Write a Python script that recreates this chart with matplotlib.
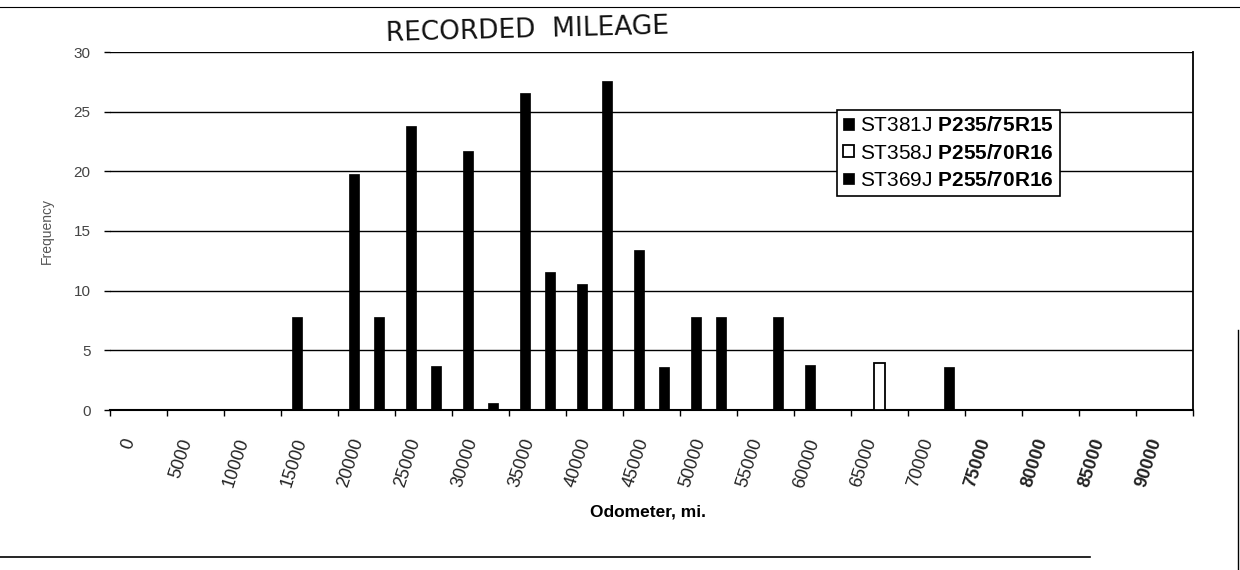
import matplotlib
matplotlib.use('Agg')
import matplotlib.pyplot as plt
import numpy as np
from matplotlib.lines import Line2D

# ---------------- data ----------------
categories = ['0', '5000', '10000', '15000', '20000', '25000', '30000', '35000',
              '40000', '45000', '50000', '55000', '60000', '65000', '70000',
              '75000', '80000', '85000', '90000']
st381j = [0, 0, 0, 7.8, 19.8, 23.8, 21.7, 26.6, 10.6, 13.4, 7.8, 0, 3.8, 0, 0, 0, 0, 0, 0]
st358j = [0, 0, 0, 0, 0, 0, 0, 0, 0, 0, 0, 0, 0, 3.9, 0, 0, 0, 0, 0]
st369j = [0, 0, 0, 0, 7.8, 3.7, 0.6, 11.6, 27.6, 3.6, 7.8, 7.8, 0, 0, 3.6, 0, 0, 0, 0]
series_labels = ['ST381J $\\mathbf{P235/75R15}$',
                 'ST358J $\\mathbf{P255/70R16}$',
                 'ST369J $\\mathbf{P255/70R16}$']
yticks = [0, 5, 10, 15, 20, 25, 30]

plt.rcParams['font.family'] = ['Liberation Sans', 'DejaVu Sans']
plt.rcParams['mathtext.fontset'] = 'custom'
plt.rcParams['mathtext.rm'] = 'Liberation Sans'
plt.rcParams['mathtext.bf'] = 'Liberation Sans:bold'

W, H = 1240, 570
fig = plt.figure(figsize=(W / 100, H / 100), dpi=100)
ax = fig.add_axes([110 / W, 1 - 410 / H, (1193 - 110) / W, (410 - 52) / H])

x = np.arange(len(categories))
bw = 0.19
off = 0.22
ax.bar(x - off, st381j, width=bw, color='black', edgecolor='black', linewidth=0.5,
       label=series_labels[0], zorder=3)
ax.bar(x, st358j, width=bw, color='white', edgecolor='black', linewidth=1.3,
       label=series_labels[1], zorder=3)
ax.bar(x + off, st369j, width=bw, color='black', edgecolor='black', linewidth=0.5,
       label=series_labels[2], zorder=3)

ax.set_xlim(-0.5, len(categories) - 0.5)
ax.set_ylim(0, 30)
ax.set_yticks(yticks)
ax.set_yticklabels([str(v) for v in yticks], fontsize=11, color='#444444')
ax.grid(axis='y', color='black', linewidth=1.0, zorder=0)
ax.set_axisbelow(True)

ax.set_xticks(x)
ax.set_xticklabels(categories, rotation=72, ha='right', va='top', fontsize=13,
                   color='#222222')
for lbl in ax.get_xticklabels()[15:]:
    lbl.set_fontweight('bold')
ax.tick_params(axis='x', which='major', length=0, pad=19)
ax.set_xticks(np.arange(-0.5, len(categories), 1.0), minor=True)
ax.tick_params(axis='x', which='minor', length=4, width=1, color='black', direction='out')
ax.tick_params(axis='y', length=4, width=1, pad=10, color='black')

for s in ['top', 'left']:
    ax.spines[s].set_visible(False)
ax.spines['bottom'].set_linewidth(1.5)
ax.spines['right'].set_linewidth(1.3)

ax.set_xlabel('Odometer, mi.', fontsize=12.5, fontweight='bold', va='center')
ax.xaxis.set_label_coords((648 - 110) / (1193 - 110), (410 - 512) / (410 - 52))
ax.set_ylabel('Frequency', fontsize=10, color='#555555', labelpad=14)

leg = ax.legend(loc='upper left', bbox_to_anchor=(837 / W, 1 - 110 / H),
                bbox_transform=fig.transFigure, fontsize=15, frameon=True,
                fancybox=False, framealpha=1, edgecolor='black',
                handlelength=0.5, handleheight=0.5, handletextpad=0.3,
                labelspacing=0.4, borderpad=0.3, borderaxespad=0)
leg.get_frame().set_linewidth(1.2)

fig.text(527 / W, 1 - 30 / H, 'RECORDED  MILEAGE', ha='center', va='center',
         fontsize=19, family='DejaVu Sans', rotation=1.5, color='#111111')

# page / frame lines from the scanned sheet
fig.add_artist(Line2D([0, 1090 / W], [1 - 557 / H, 1 - 557 / H], color='black', lw=1.2))
fig.add_artist(Line2D([1237.5 / W, 1237.5 / W], [0, 1 - 330 / H], color='black', lw=1.0))
fig.add_artist(Line2D([0, 1], [1 - 7 / H, 1 - 7 / H], color='black', lw=0.8))

fig.savefig('out.png', dpi=100)
